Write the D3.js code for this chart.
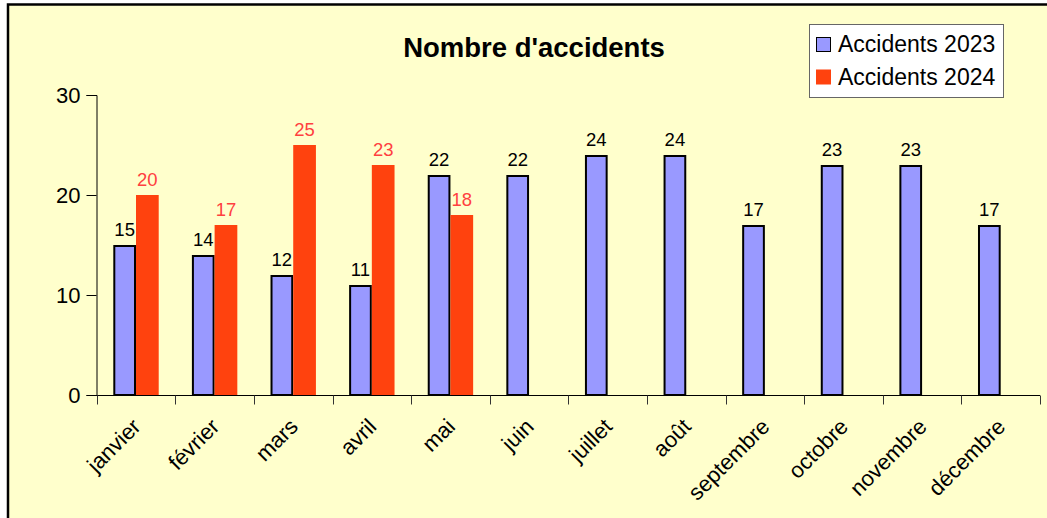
<!DOCTYPE html>
<html>
<head>
<meta charset="utf-8">
<script src="https://cdn.jsdelivr.net/npm/d3@7"></script>
<style>
  html, body { margin: 0; padding: 0; background: #ffffff; }
  svg { display: block; }
  text { font-family: "Liberation Sans", Arial, sans-serif; }
</style>
</head>
<body>
<script>
const months = ["janvier","février","mars","avril","mai","juin","juillet","août","septembre","octobre","novembre","décembre"];
const values2023 = [15,14,12,11,22,22,24,24,17,23,23,17];
const values2024 = [20,17,25,23,18,null,null,null,null,null,null,null];
const seriesNames = ["Accidents 2023","Accidents 2024"];
const yTicks = [0,10,20,30];
const titleText = "Nombre d'accidents";

const W = 1047, H = 518;
const svg = d3.select("body").append("svg").attr("width", W).attr("height", H);

// background + frame
svg.append("rect").attr("x", 8).attr("y", 4.5).attr("width", 1200).attr("height", 800)
  .attr("fill", "#ffffcc").attr("stroke", "#000").attr("stroke-width", 2.5);

const x0 = d3.scaleBand().domain(months).range([96.7, 1040]).padding(0);
const x1 = d3.scaleBand().domain(seriesNames).range([0, x0.bandwidth()]).paddingInner(0).paddingOuter(0.731);
const y = d3.scaleLinear().domain([0, 30]).range([395, 95]);

// bars
const g = svg.append("g");
const red = "#ff420e", blue = "#9999ff", labelRed = "#ff4040";

months.forEach((m, i) => {
  const v1 = values2023[i], v2 = values2024[i];
  const bx1 = x0(m) + x1(seriesNames[0]);
  const bw = x1.bandwidth();
  g.append("rect").attr("x", bx1 + 1).attr("y", y(v1) + 1)
    .attr("width", bw - 2).attr("height", y(0) - y(v1) - 1)
    .attr("fill", blue).attr("stroke", "#000").attr("stroke-width", 2);
  g.append("text").attr("x", bx1 + bw / 2).attr("y", y(v1) - 9)
    .attr("text-anchor", "middle").attr("font-size", 18.5).attr("fill", "#000").text(v1);
  if (v2 != null) {
    const bx2 = x0(m) + x1(seriesNames[1]);
    g.append("rect").attr("x", bx2).attr("y", y(v2))
      .attr("width", bw).attr("height", y(0) - y(v2))
      .attr("fill", red);
    g.append("text").attr("x", bx2 + bw / 2).attr("y", y(v2) - 9)
      .attr("text-anchor", "middle").attr("font-size", 18.5).attr("fill", labelRed).text(v2);
  }
});

// y axis
const yAxis = d3.axisLeft(y).tickValues(yTicks).tickSize(10).tickPadding(6);
const ya = svg.append("g").attr("transform", "translate(96.5,0)").call(yAxis);
ya.select(".domain").attr("stroke", "#000");
ya.selectAll(".tick line").attr("stroke", "#000");
ya.selectAll(".tick text").attr("font-size", 22).attr("font-family", "Liberation Sans, Arial, sans-serif").attr("fill", "#000");

// x axis
const xAxis = d3.axisBottom(x0).tickSize(0).tickFormat("");
const xa = svg.append("g").attr("transform", "translate(0,395.5)").call(xAxis);
xa.select(".domain").attr("stroke", "#000").attr("d", "M96.7,0H1040");
// category boundary ticks
const bounds = months.map(m => x0(m)).concat([x0.range()[1]]);
xa.selectAll(".bnd").data(bounds).enter().append("line")
  .attr("x1", d => Math.round(d) + 0.5).attr("x2", d => Math.round(d) + 0.5)
  .attr("y1", 0).attr("y2", 9).attr("stroke", "#333");
// labels
svg.append("g").selectAll("text").data(months).enter().append("text")
  .attr("font-size", 22).attr("fill", "#000").attr("text-anchor", "end")
  .attr("transform", d => `translate(${x0(d) + x0.bandwidth() / 2 + 6},428) rotate(-45)`)
  .text(d => d);

// title
svg.append("text").attr("x", 534).attr("y", 57).attr("text-anchor", "middle")
  .attr("font-size", 27.5).attr("font-weight", "bold").attr("fill", "#000").text(titleText);

// legend
const lg = svg.append("g");
lg.append("rect").attr("x", 809.5).attr("y", 24.5).attr("width", 194).attr("height", 73)
  .attr("fill", "#fff").attr("stroke", "#666").attr("stroke-width", 1);
const legColors = [blue, red];
const legY = [37, 69.5];
seriesNames.forEach((s, i) => {
  lg.append("rect").attr("x", 816.5).attr("y", legY[i] + 0.5).attr("width", 14).attr("height", 14)
    .attr("fill", legColors[i]).attr("stroke", i === 0 ? "#000" : red).attr("stroke-width", 1);
  lg.append("text").attr("x", 838).attr("y", legY[i] + 15).attr("font-size", 23).attr("fill", "#000").text(s);
});
</script>
</body>
</html>
